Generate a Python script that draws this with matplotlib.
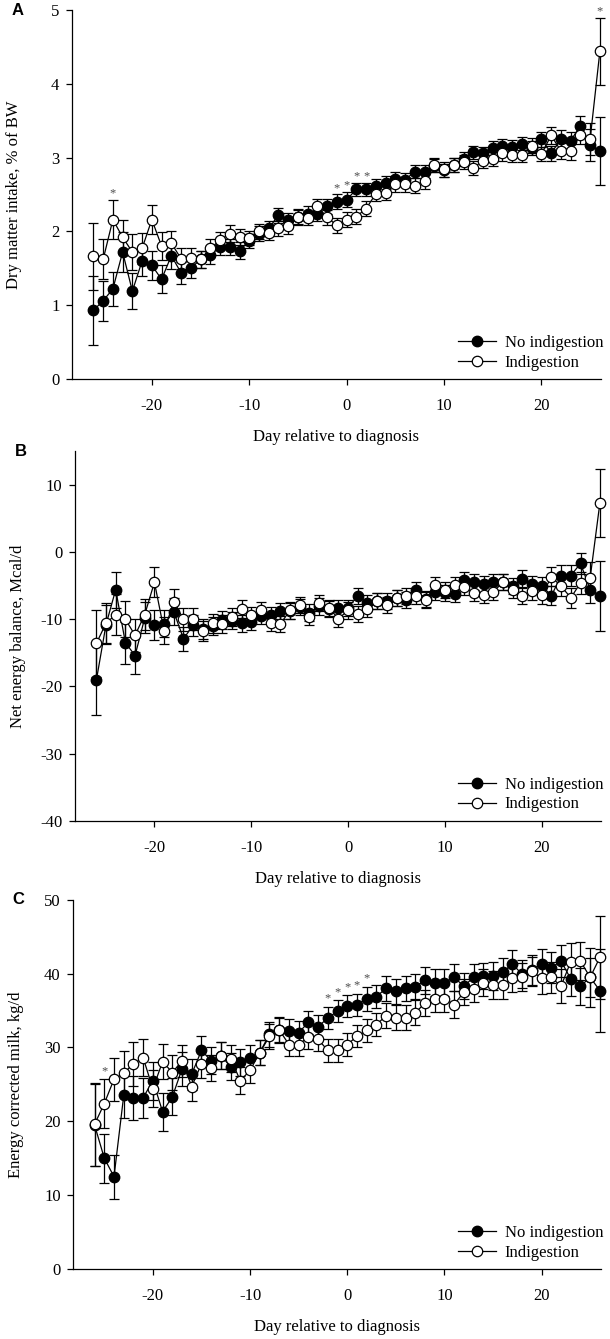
import matplotlib.pyplot as plt
import numpy as np

plt.rcParams['font.family'] = ['Liberation Serif', 'DejaVu Serif']
plt.rcParams['font.size'] = 12
plt.rcParams['axes.unicode_minus'] = False

days = np.arange(-26, 27)

# Panel A: dry matter intake, % of BW
dmi_no = [0.93, 1.06, 1.22, 1.72, 1.19, 1.60, 1.54, 1.35, 1.67, 1.44, 1.50, 1.62, 1.68,
          1.79, 1.79, 1.74, 1.87, 1.97, 2.04, 2.22, 2.15, 2.20, 2.24, 2.24, 2.34, 2.40,
          2.43, 2.57, 2.57, 2.62, 2.66, 2.71, 2.70, 2.81, 2.81, 2.89, 2.83, 2.90, 2.98,
          3.07, 3.06, 3.13, 3.16, 3.15, 3.19, 3.13, 3.25, 3.06, 3.25, 3.23, 3.43, 3.17, 3.09]
dmi_no_se = [0.47, 0.27, 0.23, 0.27, 0.24, 0.20, 0.20, 0.19, 0.18, 0.15, 0.13, 0.12, 0.12,
             0.11, 0.11, 0.11, 0.10, 0.10, 0.10, 0.10, 0.10, 0.10, 0.10, 0.10, 0.10, 0.10,
             0.10, 0.09, 0.09, 0.09, 0.09, 0.09, 0.09, 0.09, 0.09, 0.09, 0.09, 0.09, 0.09,
             0.09, 0.09, 0.09, 0.09, 0.09, 0.09, 0.09, 0.10, 0.10, 0.12, 0.12, 0.13, 0.22, 0.46]
dmi_ind = [1.66, 1.62, 2.16, 1.92, 1.72, 1.77, 2.16, 1.80, 1.84, 1.63, 1.64, 1.62, 1.77,
           1.88, 1.97, 1.92, 1.91, 2.00, 1.98, 2.04, 2.07, 2.19, 2.18, 2.34, 2.19, 2.08,
           2.16, 2.20, 2.31, 2.51, 2.52, 2.64, 2.64, 2.62, 2.68, 2.90, 2.84, 2.90, 2.94,
           2.86, 2.96, 2.98, 3.06, 3.04, 3.04, 3.16, 3.05, 3.30, 3.09, 3.09, 3.31, 3.25, 4.44]
dmi_ind_se = [0.46, 0.27, 0.26, 0.23, 0.24, 0.21, 0.20, 0.19, 0.17, 0.14, 0.13, 0.12, 0.12,
              0.11, 0.11, 0.11, 0.10, 0.10, 0.10, 0.10, 0.10, 0.10, 0.10, 0.10, 0.10, 0.10,
              0.10, 0.10, 0.10, 0.10, 0.10, 0.10, 0.10, 0.10, 0.10, 0.10, 0.10, 0.10, 0.10,
              0.10, 0.10, 0.10, 0.10, 0.10, 0.10, 0.10, 0.10, 0.11, 0.11, 0.12, 0.12, 0.22, 0.45]

# Panel B: net energy balance, Mcal/d
neb_no = [-19.1, -10.8, -5.6, -13.5, -15.4, -9.8, -10.9, -10.7, -8.9, -12.9, -10.9, -11.5,
          -11.0, -10.1, -10.2, -10.6, -10.4, -9.5, -9.4, -8.8, -8.8, -8.2, -9.0, -8.1, -8.5,
          -8.3, -8.3, -6.5, -7.6, -7.3, -7.3, -6.8, -7.2, -5.6, -7.0, -5.9, -6.1, -6.2, -4.1,
          -4.4, -4.8, -4.4, -4.4, -5.0, -4.0, -4.8, -5.0, -6.5, -3.5, -3.5, -1.7, -5.6, -6.5]
neb_no_se = [5.2, 2.9, 2.7, 3.1, 2.7, 2.3, 2.2, 2.0, 2.0, 1.8, 1.6, 1.5, 1.4, 1.3, 1.3,
             1.3, 1.2, 1.2, 1.2, 1.2, 1.2, 1.2, 1.2, 1.2, 1.2, 1.2, 1.2, 1.2, 1.2, 1.2,
             1.2, 1.2, 1.2, 1.2, 1.2, 1.2, 1.2, 1.2, 1.2, 1.2, 1.2, 1.2, 1.2, 1.2, 1.3,
             1.3, 1.3, 1.4, 1.5, 1.5, 1.6, 2.0, 5.2]
neb_ind = [-13.6, -10.6, -9.3, -10.0, -12.4, -9.3, -4.5, -11.7, -7.4, -10.0, -10.0, -11.8,
           -10.6, -10.7, -9.7, -8.5, -9.4, -8.7, -10.5, -10.7, -8.7, -7.9, -9.7, -7.6, -8.3,
           -9.9, -8.7, -9.2, -8.5, -7.3, -7.9, -6.8, -6.5, -6.6, -7.2, -4.9, -5.6, -4.9, -5.2,
           -6.1, -6.4, -5.9, -4.5, -5.6, -6.5, -5.8, -6.4, -3.7, -5.1, -6.8, -4.6, -3.8, 7.3]
neb_ind_se = [5.0, 3.0, 3.0, 2.7, 2.5, 2.3, 2.2, 2.0, 1.9, 1.7, 1.6, 1.5, 1.4, 1.3, 1.3,
              1.3, 1.2, 1.2, 1.2, 1.2, 1.2, 1.2, 1.2, 1.2, 1.2, 1.2, 1.2, 1.2, 1.2, 1.2,
              1.2, 1.2, 1.2, 1.2, 1.2, 1.2, 1.2, 1.2, 1.2, 1.2, 1.2, 1.2, 1.2, 1.2, 1.3,
              1.3, 1.3, 1.4, 1.4, 1.5, 1.6, 2.3, 5.1]

# Panel C: energy corrected milk, kg/d
ecm_no = [19.5, 15.0, 12.5, 23.5, 23.2, 23.2, 25.5, 21.3, 23.3, 27.1, 26.4, 29.6, 28.2,
          28.9, 27.4, 28.0, 28.6, 29.3, 31.8, 32.3, 32.2, 32.0, 33.4, 32.8, 34.0, 34.9,
          35.6, 35.8, 36.6, 36.9, 38.0, 37.6, 38.0, 38.2, 39.1, 38.8, 38.8, 39.5, 38.3,
          39.5, 39.7, 39.7, 40.2, 41.3, 39.9, 40.5, 41.3, 40.8, 41.7, 39.3, 38.3, 39.5, 37.7]
ecm_no_se = [5.6, 3.3, 3.0, 3.0, 3.0, 2.7, 2.6, 2.6, 2.5, 2.3, 2.1, 1.9, 1.8, 1.8, 1.8,
             1.8, 1.7, 1.7, 1.7, 1.7, 1.6, 1.6, 1.6, 1.6, 1.5, 1.5, 1.5, 1.5, 1.6, 1.6,
             1.7, 1.7, 1.7, 1.7, 1.8, 1.8, 1.8, 1.8, 1.8, 1.8, 1.8, 1.9, 1.9, 1.9, 1.9,
             2.0, 2.1, 2.1, 2.2, 2.3, 2.5, 2.6, 5.6]
ecm_ind = [19.6, 22.4, 25.7, 26.5, 27.8, 28.6, 24.4, 28.1, 26.6, 28.2, 24.7, 27.8, 27.2,
           28.9, 28.5, 25.5, 26.9, 29.3, 31.5, 32.4, 30.4, 30.4, 31.4, 31.1, 29.6, 29.6,
           30.4, 31.5, 32.3, 33.1, 34.3, 34.0, 34.0, 34.7, 36.0, 36.6, 36.6, 35.8, 37.5,
           37.9, 38.8, 38.4, 38.4, 39.4, 39.5, 40.3, 39.4, 39.5, 38.3, 41.6, 41.7, 39.5, 42.2]
ecm_ind_se = [5.6, 3.3, 2.9, 3.0, 3.0, 2.5, 2.5, 2.4, 2.4, 2.2, 2.0, 1.9, 1.8, 1.8, 1.8,
              1.8, 1.7, 1.7, 1.7, 1.7, 1.6, 1.6, 1.6, 1.6, 1.5, 1.5, 1.5, 1.5, 1.6, 1.6,
              1.7, 1.7, 1.7, 1.7, 1.8, 1.8, 1.8, 1.8, 1.8, 1.8, 1.8, 1.9, 1.9, 1.9, 1.9,
              2.0, 2.1, 2.1, 2.3, 2.5, 2.6, 4.0, 5.6]

star_days_a = [-24, -1, 0, 1, 2, 26]
star_days_c = [-25, -2, -1, 0, 1, 2]

x_ticks = [-20, -10, 0, 10, 20]
y_ticks_a = [0, 1, 2, 3, 4, 5]
y_ticks_b = [-40, -30, -20, -10, 0, 10]
y_ticks_c = [0, 10, 20, 30, 40, 50]

panels = [
    ('A', dmi_no, dmi_no_se, dmi_ind, dmi_ind_se, 'Dry matter intake, % of BW',
     (0, 5), y_ticks_a, star_days_a, 0.09, [0.118, 0.717, 0.867, 0.2755]),
    ('B', neb_no, neb_no_se, neb_ind, neb_ind_se, 'Net energy balance, Mcal/d',
     (-40, 15), y_ticks_b, [], 0, [0.123, 0.387, 0.862, 0.276]),
    ('C', ecm_no, ecm_no_se, ecm_ind, ecm_ind_se, 'Energy corrected milk, kg/d',
     (0, 50), y_ticks_c, star_days_c, 1.1, [0.120, 0.0523, 0.865, 0.2757]),
]

fig = plt.figure(figsize=(6.1, 13.39), dpi=100)

for letter, y_no, se_no, y_ind, se_ind, ylabel, ylim, yticks, stars, off, rect in panels:
    ax = fig.add_axes(rect)
    y_no = np.array(y_no)
    y_ind = np.array(y_ind)
    se_no = np.array(se_no)
    se_ind = np.array(se_ind)

    ax.errorbar(days, y_no, yerr=se_no, fmt='none', ecolor='black', elinewidth=0.9,
                capsize=3.5, capthick=0.9, zorder=2, clip_on=False)
    ax.plot(days, y_no, color='black', lw=0.9, marker='o', markersize=7.5,
            markerfacecolor='black', markeredgecolor='black', zorder=3,
            clip_on=False, label='No indigestion')
    ax.errorbar(days, y_ind, yerr=se_ind, fmt='none', ecolor='black', elinewidth=0.9,
                capsize=3.5, capthick=0.9, zorder=4, clip_on=False)
    ax.plot(days, y_ind, color='black', lw=0.9, marker='o', markersize=7.5,
            markerfacecolor='white', markeredgecolor='black', markeredgewidth=0.9,
            zorder=5, clip_on=False, label='Indigestion')

    # significance marks
    for d in stars:
        i = d + 26
        top = max(y_no[i] + se_no[i], y_ind[i] + se_ind[i])
        ax.text(d, top + off, '*', ha='center', va='center', fontsize=9, color='0.3')

    ax.set_xlim(-28.2, 26.1)
    ax.set_ylim(*ylim)
    ax.set_xticks(x_ticks)
    ax.set_yticks(yticks)
    ax.spines['top'].set_visible(False)
    ax.spines['right'].set_visible(False)
    ax.spines['left'].set_linewidth(0.9)
    ax.spines['bottom'].set_linewidth(0.9)
    ax.tick_params(direction='out', length=4, width=0.9, labelsize=12, pad=10)
    ax.tick_params(axis='y', pad=5)
    ax.set_ylabel(ylabel, fontsize=12)
    ax.yaxis.set_label_coords(-0.094, 0.5)
    ax.set_xlabel('Day relative to diagnosis', fontsize=12)
    ax.xaxis.set_label_coords(0.5, -0.135)
    ax.legend(loc='lower right', bbox_to_anchor=(1.02, 0.0), frameon=False, fontsize=12,
              handlelength=2.3, handletextpad=0.5, labelspacing=0.2, borderpad=0)
    ax.text(-0.115, 1.0, letter, transform=ax.transAxes, fontsize=12, fontweight='bold',
            family='Liberation Sans', ha='left', va='center')

fig.savefig('out.png', dpi=100)
